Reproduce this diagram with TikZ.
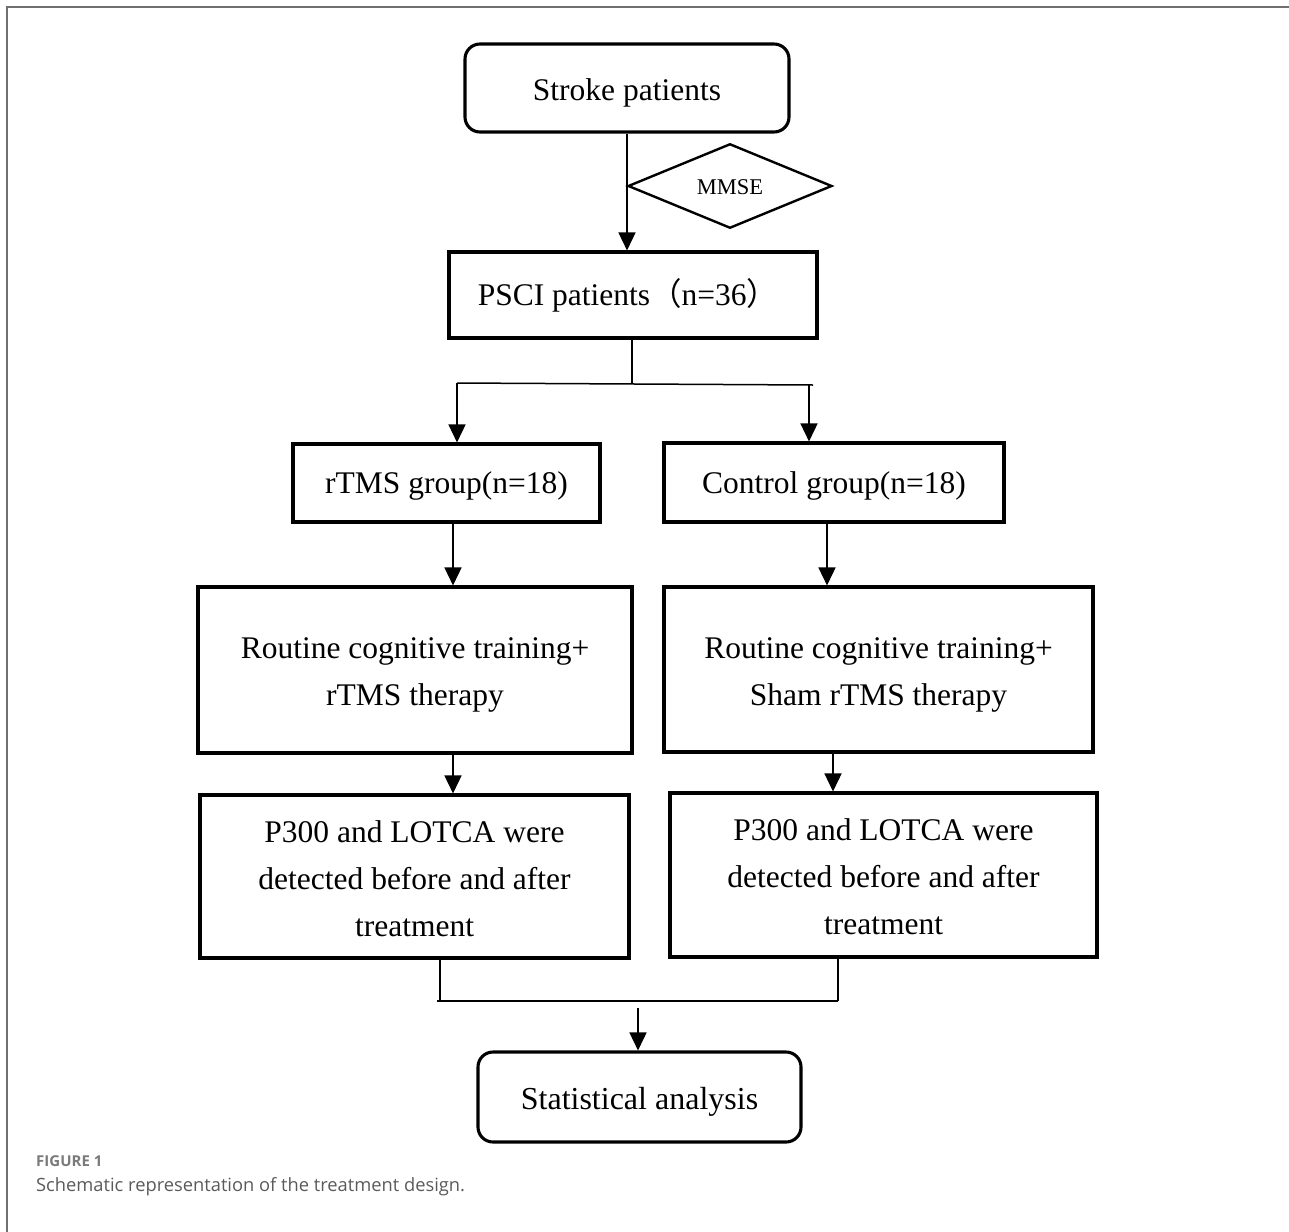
\documentclass[tikz,border=0pt]{standalone}
\usepackage{fontspec}
\setmainfont{Liberation Serif}
\newfontfamily\capfont{Open Sans}
\newfontfamily\cjk{Noto Sans CJK SC}
\usetikzlibrary{arrows.meta,shapes.geometric}
\definecolor{framegray}{HTML}{707070}
\definecolor{capgray}{HTML}{5A5A5A}
\definecolor{figgray}{HTML}{7A7A7A}
\newcommand{\lift}[1]{\rule{0pt}{#1}}
\tikzset{
  box/.style={draw, line width=3.1pt, inner sep=0pt, align=center,
    font=\fontsize{31.5}{47}\selectfont},
  rbox/.style={box, rounded corners=15pt},
  conn/.style={line width=1.5pt},
  arr/.style={conn, -{Triangle[width=17pt,length=18pt]}},
}
\begin{document}
\begin{tikzpicture}[x=1pt,y=-1pt]
\useasboundingbox (0,0) rectangle (1289,1231);
\draw[framegray, line width=2pt] (7,1235) -- (7,7) -- (1293,7);

% nodes
\node[rbox, minimum width=324pt, minimum height=88pt] (stroke) at (627,88) {\lift{31pt}Stroke patients};
\node[draw, diamond, line width=2.4pt, inner sep=0pt, minimum width=204pt, minimum height=78pt,
      font=\fontsize{22.5}{27}\selectfont] (mmse) at (730,186) {\lift{18pt}MMSE};
\node[box, minimum width=368pt, minimum height=86pt] (psci) at (633,295)
  {PSCI patients{\cjk （}n=36{\cjk ）}\hspace{10pt}};
\node[box, minimum width=307pt, minimum height=78pt] (rtms) at (446.5,483) {\lift{28pt}rTMS group(n=18)};
\node[box, minimum width=340pt, minimum height=79pt] (ctrl) at (834,482.5) {\lift{28pt}Control group(n=18)};
\node[box, minimum width=434pt, minimum height=166pt] (routL) at (415,670)
  {\lift{31pt}Routine cognitive training+\\rTMS therapy};
\node[box, minimum width=429pt, minimum height=165pt] (routR) at (878.5,669.5)
  {\lift{31pt}Routine cognitive training+\\Sham rTMS therapy};
\node[box, minimum width=429pt, minimum height=163pt] (pL) at (414.5,876.5)
  {\lift{26pt}P300 and LOTCA were\\detected before and after\\treatment};
\node[box, minimum width=427pt, minimum height=164pt] (pR) at (883.5,875)
  {\lift{26pt}P300 and LOTCA were\\detected before and after\\treatment};
\node[rbox, minimum width=323pt, minimum height=90pt, font=\fontsize{32}{40}\selectfont] (stat) at (639.5,1097)
  {\lift{32pt}Statistical analysis};

% caption
\node[anchor=base west, inner sep=0pt, text=figgray, font=\capfont\bfseries\fontsize{15}{18}\selectfont]
  (figlab) at (36,1166) {FIGURE 1};
\node[anchor=base west, inner sep=0pt, text=capgray, font=\capfont\fontsize{18.3}{22}\selectfont]
  (figcap) at (36,1191) {Schematic representation of the treatment design.};

% helper coordinates
\coordinate (splitL) at (457,383);
\coordinate (splitR) at (813,385);
\coordinate (splitM) at (632,383);
\coordinate (xa) at (453,0);
\coordinate (xb) at (827,0);
\coordinate (xc) at (833,0);
\coordinate (xrc) at (809,0);
\coordinate (jl) at (440,1001);
\coordinate (jr) at (838,1001);
\coordinate (jm) at (638,1008);

% connectors
\draw[arr] (stroke.south) -- (stroke.south |- psci.north);
\draw[conn] (psci.south -| splitM) -- (splitM);
\draw[conn] (splitL) -- (splitR);
\draw[arr] (splitL) -- (splitL |- rtms.north);
\draw[arr] (xrc |- splitR) -- (xrc |- ctrl.north);
\draw[arr] (xa |- rtms.south) -- (xa |- routL.north);
\draw[arr] (xb |- ctrl.south) -- (xb |- routR.north);
\draw[arr] (xa |- routL.south) -- (xa |- pL.north);
\draw[arr] (xc |- routR.south) -- (xc |- pR.north);
\draw[conn] (jl |- pL.south) -- (jl);
\draw[conn] (jr |- pR.south) -- (jr);
\draw[conn] ([xshift=-3pt]jl) -- (jr);
\draw[arr] (jm) -- (jm |- stat.north);
\end{tikzpicture}
\end{document}
